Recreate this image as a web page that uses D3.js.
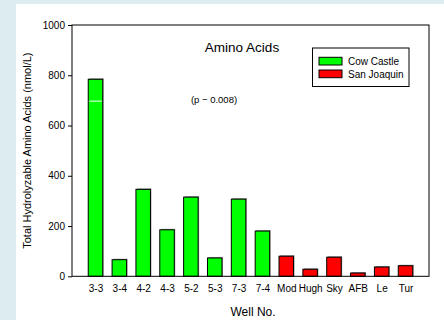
<!DOCTYPE html>
<html>
<head>
<meta charset="utf-8">
<script src="https://cdn.jsdelivr.net/npm/d3@7"></script>
<style>
  html, body { margin: 0; padding: 0; background: #dcecf0; }
  #chart { position: absolute; left: 16px; top: 4px; }
  text { font-family: "Liberation Sans", Arial, sans-serif; fill: #000; }
</style>
</head>
<body>
<div id="chart"></div>
<script>
// Well numbers and total hydrolyzable amino acids (nmol/L)
const wells = ["3-3", "3-4", "4-2", "4-3", "5-2", "5-3", "7-3", "7-4", "Mod", "Hugh", "Sky", "AFB", "Le", "Tur"];
const values = [784, 66, 346, 185, 315, 73, 307, 180, 80, 28, 76, 13, 37, 42];
const groups = ["Cow Castle", "Cow Castle", "Cow Castle", "Cow Castle", "Cow Castle", "Cow Castle", "Cow Castle", "Cow Castle",
  "San Joaquin", "San Joaquin", "San Joaquin", "San Joaquin", "San Joaquin", "San Joaquin"];
const series = ["Cow Castle", "San Joaquin"];
const yTicks = [0, 200, 400, 600, 800, 1000];

function drawChart() {
  const width = 428, height = 316;
  // plot frame in page coords minus the 16/4 offset
  const x0 = 72 - 16, x1 = 429 - 16, yTop = 25 - 4, yBot = 276.3 - 4;

  const svg = d3.select("#chart").append("svg")
    .attr("width", width)
    .attr("height", height)
    .style("background", "#fff");

  const x = d3.scalePoint().domain(wells).range([x0, x1]).padding(0.985);
  const y = d3.scaleLinear().domain([0, 1000]).range([yBot, yTop]);
  const color = d3.scaleOrdinal().domain(series).range(["#00ff00", "#ff0000"]);
  const barW = 14.5;

  // bars with a faint grey shadow on the right
  const bars = svg.append("g");
  bars.selectAll("rect.shadow")
    .data(wells)
    .join("rect")
    .attr("class", "shadow")
    .attr("x", d => x(d) - barW / 2 + 1)
    .attr("y", (d, i) => y(values[i]) - 1)
    .attr("width", barW)
    .attr("height", (d, i) => yBot - y(values[i]) + 1)
    .attr("fill", "#999");
  bars.selectAll("rect.bar")
    .data(wells)
    .join("rect")
    .attr("class", "bar")
    .attr("x", d => x(d) - barW / 2)
    .attr("y", (d, i) => y(values[i]))
    .attr("width", barW)
    .attr("height", (d, i) => yBot - y(values[i]))
    .attr("fill", (d, i) => color(groups[i]))
    .attr("stroke", "#000")
    .attr("stroke-width", 1);

  // small white line inside first bar
  svg.append("line")
    .attr("x1", x(wells[0]) - barW / 2 + 1)
    .attr("x2", x(wells[0]) + barW / 2 - 1)
    .attr("y1", y(697)).attr("y2", y(697))
    .attr("stroke", "#fff").attr("stroke-width", 1);

  // frame
  svg.append("rect")
    .attr("x", x0).attr("y", yTop)
    .attr("width", x1 - x0).attr("height", yBot - yTop)
    .attr("fill", "none").attr("stroke", "#000").attr("stroke-width", 1);

  // y axis
  const yAxis = svg.append("g")
    .attr("transform", `translate(${x0},0)`)
    .call(d3.axisLeft(y).tickValues(yTicks).tickSize(4).tickPadding(3).tickFormat(d3.format("d")));
  yAxis.select(".domain").remove();
  yAxis.selectAll("text").style("font-size", "10px").style("font-family", "Liberation Sans, Arial, sans-serif");

  // x labels
  const xAxis = svg.append("g")
    .attr("transform", `translate(0,${yBot})`)
    .call(d3.axisBottom(x).tickSize(0).tickPadding(9));
  xAxis.select(".domain").remove();
  xAxis.selectAll("text").style("font-size", "10px").style("font-family", "Liberation Sans, Arial, sans-serif");

  // titles
  svg.append("text")
    .attr("x", 242 - 16).attr("y", 52 - 4)
    .attr("text-anchor", "middle")
    .style("font-size", "13.5px")
    .text("Amino Acids");
  svg.append("text")
    .attr("x", 214 - 16).attr("y", 103 - 4)
    .attr("text-anchor", "middle")
    .style("font-size", "9.5px")
    .text("(p − 0.008)");
  svg.append("text")
    .attr("x", 253 - 16).attr("y", 316 - 4)
    .attr("text-anchor", "middle")
    .style("font-size", "12px")
    .text("Well No.");
  svg.append("text")
    .attr("transform", `translate(${31 - 16},${(yTop + yBot) / 2}) rotate(-90)`)
    .attr("text-anchor", "middle")
    .style("font-size", "11px")
    .text("Total Hydrolyzable Amino Acids (nmol/L)");

  // legend
  const legend = svg.append("g").attr("transform", `translate(${312.5 - 16},${48 - 4})`);
  legend.append("rect")
    .attr("width", 96.5).attr("height", 38.5)
    .attr("fill", "#fff").attr("stroke", "#000");
  const item = legend.selectAll("g.item")
    .data(series)
    .join("g")
    .attr("class", "item")
    .attr("transform", (d, i) => `translate(6.5,${9.3 + i * 12.7})`);
  item.append("rect")
    .attr("width", 23).attr("height", 7.7)
    .attr("fill", d => color(d))
    .attr("stroke", "#000");
  item.append("text")
    .attr("x", 29).attr("y", 8)
    .style("font-size", "10px")
    .text(d => d);
}

if (document.readyState === 'loading') {
  document.addEventListener('DOMContentLoaded', drawChart);
} else {
  drawChart();
}
</script>
</body>
</html>
